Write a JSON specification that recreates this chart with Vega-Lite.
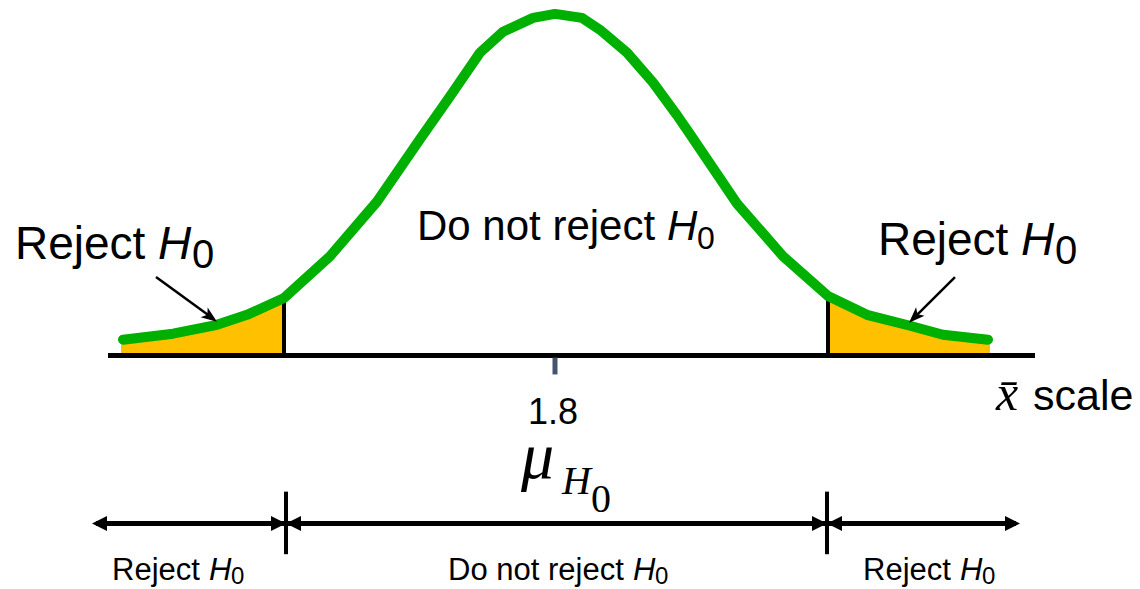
{
  "$schema": "https://vega.github.io/schema/vega-lite/v6.json",
  "width": 1140,
  "height": 589,
  "autosize": {"type": "fit", "contains": "padding"},
  "padding": 0,
  "background": "white",
  "config": {"view": {"stroke": null}},
  "datasets": {
    "curve": [
      {"x": 123, "y": 342}, {"x": 173, "y": 336}, {"x": 217, "y": 327}, {"x": 247, "y": 317},
      {"x": 284, "y": 300}, {"x": 330, "y": 258}, {"x": 377, "y": 203}, {"x": 420, "y": 140},
      {"x": 450, "y": 97}, {"x": 480, "y": 53}, {"x": 503, "y": 32}, {"x": 533, "y": 18},
      {"x": 555, "y": 14}, {"x": 582, "y": 18}, {"x": 600, "y": 30}, {"x": 627, "y": 53},
      {"x": 653, "y": 83}, {"x": 677, "y": 116}, {"x": 690, "y": 135}, {"x": 737, "y": 205},
      {"x": 783, "y": 258}, {"x": 828, "y": 298}, {"x": 867, "y": 317}, {"x": 910, "y": 328},
      {"x": 943, "y": 337}, {"x": 988, "y": 342}
    ],
    "tails": [
      {"side": "L", "x": 121, "y": 342}, {"side": "L", "x": 173, "y": 336}, {"side": "L", "x": 217, "y": 327},
      {"side": "L", "x": 247, "y": 317}, {"side": "L", "x": 284, "y": 300},
      {"side": "R", "x": 828, "y": 298}, {"side": "R", "x": 867, "y": 317}, {"side": "R", "x": 910, "y": 328},
      {"side": "R", "x": 943, "y": 337}, {"side": "R", "x": 990, "y": 342}
    ],
    "axisLine": [{"x": 108, "x2": 1035, "y": 358}],
    "critical": [{"x": 284, "y": 300, "y2": 358}, {"x": 828, "y": 298, "y2": 358}],
    "meanTick": [{"x": 555, "y": 360, "y2": 377}],
    "bottomLine": [{"x": 96, "x2": 1016, "y": 527}],
    "bottomTicks": [{"x": 286, "y": 495, "y2": 558}, {"x": 827, "y": 495, "y2": 558}],
    "pointerL": [{"x": 156, "y": 279, "x2": 212, "y2": 320}],
    "pointerR": [{"x": 955, "y": 279, "x2": 913, "y2": 321}],
    "headL": [{"x": 217, "y": 324}],
    "headR": [{"x": 909, "y": 325}],
    "headsRight": [{"x": 286, "y": 527}, {"x": 827, "y": 527}, {"x": 1020, "y": 527}],
    "headsLeft": [{"x": 92, "y": 527}, {"x": 286, "y": 527}, {"x": 827, "y": 527}],
    "bigRej": [{"x": 15, "y": 261, "t": "Reject"}, {"x": 878, "y": 257, "t": "Reject"}],
    "bigRejH": [{"x": 158, "y": 261, "t": "H"}, {"x": 1021, "y": 257, "t": "H"}],
    "bigRej0": [{"x": 192, "y": 270, "t": "0"}, {"x": 1055, "y": 266, "t": "0"}],
    "midLab": [{"x": 417, "y": 242, "t": "Do not reject"}],
    "midLabH": [{"x": 667, "y": 242, "t": "H"}],
    "midLab0": [{"x": 697, "y": 251, "t": "0"}],
    "sansMid": [{"x": 553, "y": 427, "t": "1.8"}],
    "scaleLab": [{"x": 1033, "y": 413, "t": "scale"}],
    "xbar": [{"x": 996, "y": 413, "t": "x̄"}],
    "mu": [{"x": 521, "y": 481, "t": "μ"}],
    "muH": [{"x": 562, "y": 497, "t": "H"}],
    "mu0": [{"x": 591, "y": 515, "t": "0"}],
    "botLab": [{"x": 112, "y": 584, "t": "Reject"}, {"x": 448, "y": 584, "t": "Do not reject"}, {"x": 863, "y": 584, "t": "Reject"}],
    "botLabH": [{"x": 209, "y": 584, "t": "H"}, {"x": 633, "y": 584, "t": "H"}, {"x": 960, "y": 584, "t": "H"}],
    "botLab0": [{"x": 231, "y": 588, "t": "0"}, {"x": 655, "y": 588, "t": "0"}, {"x": 982, "y": 588, "t": "0"}]
  },
  "encoding": {
    "x": {"field": "x", "type": "quantitative", "scale": {"domain": [0, 1140], "nice": false, "zero": false}, "axis": null},
    "y": {"field": "y", "type": "quantitative", "scale": {"domain": [0, 589], "nice": false, "zero": false, "reverse": true}, "axis": null}
  },
  "layer": [
    {"data": {"name": "tails"}, "mark": {"type": "area", "color": "#FFC000", "opacity": 1},
     "encoding": {"y2": {"datum": 358}, "detail": {"field": "side"}}},
    {"data": {"name": "axisLine"}, "mark": {"type": "rule", "color": "black", "strokeWidth": 5},
     "encoding": {"x2": {"field": "x2"}}},
    {"data": {"name": "critical"}, "mark": {"type": "rule", "color": "black", "strokeWidth": 4},
     "encoding": {"y2": {"field": "y2"}}},
    {"data": {"name": "curve"}, "mark": {"type": "line", "color": "#00B000", "strokeWidth": 10, "strokeCap": "round", "strokeJoin": "round"},
     "encoding": {}},
    {"data": {"name": "meanTick"}, "mark": {"type": "rule", "color": "#44546A", "strokeWidth": 5},
     "encoding": {"y2": {"field": "y2"}}},
    {"data": {"name": "bottomLine"}, "mark": {"type": "rule", "color": "black", "strokeWidth": 5},
     "encoding": {"x2": {"field": "x2"}}},
    {"data": {"name": "bottomTicks"}, "mark": {"type": "rule", "color": "black", "strokeWidth": 4},
     "encoding": {"y2": {"field": "y2"}}},
    {"data": {"name": "pointerL"}, "mark": {"type": "rule", "color": "black", "strokeWidth": 2.5},
     "encoding": {"x2": {"field": "x2"}, "y2": {"field": "y2"}}},
    {"data": {"name": "pointerR"}, "mark": {"type": "rule", "color": "black", "strokeWidth": 2.5},
     "encoding": {"x2": {"field": "x2"}, "y2": {"field": "y2"}}},
    {"data": {"name": "headL"}, "mark": {"type": "point", "shape": "M0,0 L-0.6,1.6 L0,1.2 L0.6,1.6 Z", "filled": true, "color": "black", "opacity": 1, "size": 400, "angle": 126.4, "strokeWidth": 0},
     "encoding": {}},
    {"data": {"name": "headR"}, "mark": {"type": "point", "shape": "M0,0 L-0.6,1.6 L0,1.2 L0.6,1.6 Z", "filled": true, "color": "black", "opacity": 1, "size": 400, "angle": 225, "strokeWidth": 0},
     "encoding": {}},
    {"data": {"name": "headsRight"}, "mark": {"type": "point", "shape": "M0,0 L-0.75,1.5 L0.75,1.5 Z", "filled": true, "color": "black", "opacity": 1, "size": 400, "angle": 90, "strokeWidth": 0},
     "encoding": {}},
    {"data": {"name": "headsLeft"}, "mark": {"type": "point", "shape": "M0,0 L-0.75,1.5 L0.75,1.5 Z", "filled": true, "color": "black", "opacity": 1, "size": 400, "angle": 270, "strokeWidth": 0},
     "encoding": {}},
    {"data": {"name": "bigRej"}, "mark": {"type": "text", "align": "left", "baseline": "alphabetic", "font": "Liberation Sans", "fontSize": 46, "color": "black"},
     "encoding": {"text": {"field": "t"}}},
    {"data": {"name": "bigRejH"}, "mark": {"type": "text", "align": "left", "baseline": "alphabetic", "font": "Liberation Sans", "fontSize": 46, "fontStyle": "italic", "color": "black"},
     "encoding": {"text": {"field": "t"}}},
    {"data": {"name": "bigRej0"}, "mark": {"type": "text", "align": "left", "baseline": "alphabetic", "font": "Liberation Sans", "fontSize": 40, "color": "black"},
     "encoding": {"text": {"field": "t"}}},
    {"data": {"name": "midLab"}, "mark": {"type": "text", "align": "left", "baseline": "alphabetic", "font": "Liberation Sans", "fontSize": 42, "color": "black"},
     "encoding": {"text": {"field": "t"}}},
    {"data": {"name": "midLabH"}, "mark": {"type": "text", "align": "left", "baseline": "alphabetic", "font": "Liberation Sans", "fontSize": 42, "fontStyle": "italic", "color": "black"},
     "encoding": {"text": {"field": "t"}}},
    {"data": {"name": "midLab0"}, "mark": {"type": "text", "align": "left", "baseline": "alphabetic", "font": "Liberation Sans", "fontSize": 32, "color": "black"},
     "encoding": {"text": {"field": "t"}}},
    {"data": {"name": "sansMid"}, "mark": {"type": "text", "align": "center", "baseline": "alphabetic", "font": "Liberation Sans", "fontSize": 36, "color": "black"},
     "encoding": {"text": {"field": "t"}}},
    {"data": {"name": "scaleLab"}, "mark": {"type": "text", "align": "left", "baseline": "alphabetic", "font": "Liberation Sans", "fontSize": 43, "color": "black"},
     "encoding": {"text": {"field": "t"}}},
    {"data": {"name": "xbar"}, "mark": {"type": "text", "align": "left", "baseline": "alphabetic", "font": "Liberation Serif", "fontSize": 50, "fontStyle": "italic", "color": "black"},
     "encoding": {"text": {"field": "t"}}},
    {"data": {"name": "mu"}, "mark": {"type": "text", "align": "left", "baseline": "alphabetic", "font": "Liberation Serif", "fontSize": 66, "fontStyle": "italic", "color": "black"},
     "encoding": {"text": {"field": "t"}}},
    {"data": {"name": "muH"}, "mark": {"type": "text", "align": "left", "baseline": "alphabetic", "font": "Liberation Serif", "fontSize": 40, "fontStyle": "italic", "color": "black"},
     "encoding": {"text": {"field": "t"}}},
    {"data": {"name": "mu0"}, "mark": {"type": "text", "align": "left", "baseline": "alphabetic", "font": "Liberation Serif", "fontSize": 40, "color": "black"},
     "encoding": {"text": {"field": "t"}}},
    {"data": {"name": "botLab"}, "mark": {"type": "text", "align": "left", "baseline": "alphabetic", "font": "Liberation Sans", "fontSize": 31, "color": "black"},
     "encoding": {"text": {"field": "t"}}},
    {"data": {"name": "botLabH"}, "mark": {"type": "text", "align": "left", "baseline": "alphabetic", "font": "Liberation Sans", "fontSize": 31, "fontStyle": "italic", "color": "black"},
     "encoding": {"text": {"field": "t"}}},
    {"data": {"name": "botLab0"}, "mark": {"type": "text", "align": "left", "baseline": "alphabetic", "font": "Liberation Sans", "fontSize": 24, "color": "black"},
     "encoding": {"text": {"field": "t"}}}
  ]
}
